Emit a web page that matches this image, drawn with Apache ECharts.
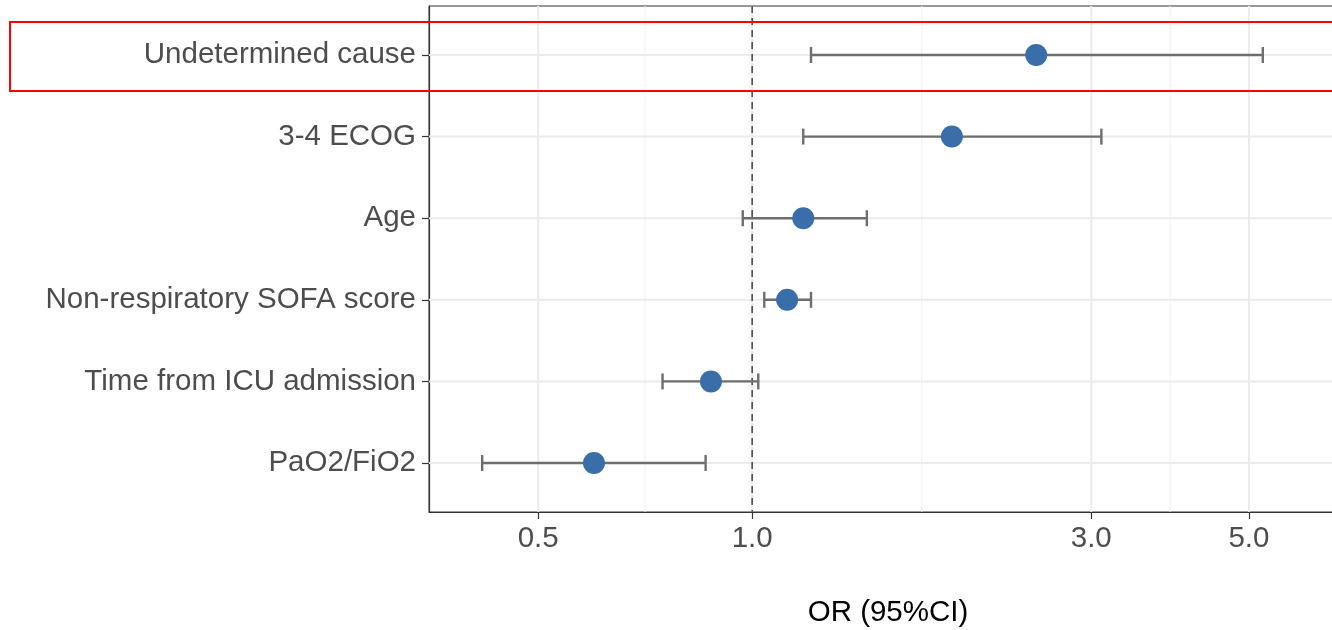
<!DOCTYPE html>
<html>
<head>
<meta charset="utf-8">
<script src="https://cdn.jsdelivr.net/npm/echarts@6/dist/echarts.min.js"></script>
<style>html,body{margin:0;padding:0;background:#fff}#c{width:1332px;height:630px}</style>
</head>
<body>
<div id="c"></div>
<script>
// ---- data ----
var categories = ['Undetermined cause', '3-4 ECOG', 'Age', 'Non-respiratory SOFA score', 'Time from ICU admission', 'PaO2/FiO2'];
var orValues  = [2.51, 1.91, 1.18, 1.12, 0.875, 0.599];
var ciLower   = [1.21, 1.18, 0.970, 1.04, 0.748, 0.417];
var ciUpper   = [5.23, 3.10, 1.45, 1.21, 1.02, 0.860];
var xTicks    = [0.5, 1.0, 3.0, 5.0];
var xMinor    = [0.7071, 1.7321, 3.873];
var refValue  = 1.0;

var FONT = '"Liberation Sans", Arial, Helvetica, sans-serif';
var chart = echarts.init(document.getElementById('c'), null, {renderer: 'canvas'});

var yPos = categories.map(function (c, i) { return i + 1; });
var ebData = categories.map(function (c, i) { return [orValues[i], yPos[i], ciLower[i], ciUpper[i]]; });
var ptData = categories.map(function (c, i) { return [orValues[i], yPos[i]]; });

function vLineSeries(values, color, width, dash, z) {
  return {
    type: 'custom', z: z, silent: true, clip: true,
    data: values.map(function (v) { return [v, 1]; }),
    renderItem: function (params, api) {
      var cs = params.coordSys;
      var x = api.coord([api.value(0), 1])[0];
      return {type: 'line', shape: {x1: x, y1: cs.y, x2: x, y2: cs.y + cs.height},
        style: {stroke: color, lineWidth: width, lineDash: dash}};
    }
  };
}

var option = {
  backgroundColor: '#ffffff',
  animation: false,
  grid: {left: 429, top: 6, width: 918, height: 506, outerBoundsMode: 'none', containLabel: false,
    show: true, borderColor: '#333333', borderWidth: 1, backgroundColor: '#ffffff'},
  xAxis: {
    type: 'log', logBase: 10, min: 0.351, max: 6.87,
    name: 'OR (95%CI)', nameLocation: 'middle', nameGap: 86,
    nameTextStyle: {fontFamily: FONT, fontSize: 29.5, color: '#000000'},
    axisLine: {show: true, lineStyle: {color: '#333333', width: 1.2}},
    axisTick: {show: true, length: 7, lineStyle: {color: '#333333', width: 1.2}, customValues: xTicks},
    axisLabel: {customValues: xTicks, fontFamily: FONT, fontSize: 29.5, color: '#4D4D4D', margin: 12,
      formatter: function (v) { return Number(v).toFixed(1); }},
    splitLine: {show: false}, minorSplitLine: {show: false}
  },
  yAxis: {
    type: 'value', min: 0.4, max: 6.6, inverse: true,
    axisLine: {show: true, lineStyle: {color: '#333333', width: 1.2}},
    axisTick: {show: true, length: 7, lineStyle: {color: '#333333', width: 1.2}, customValues: yPos},
    axisLabel: {customValues: yPos, fontFamily: FONT, fontSize: 29.5, color: '#4D4D4D', margin: 13,
      padding: [7, 0, 0, 0],
      formatter: function (v) { return categories[Math.round(v) - 1] || ''; }},
    splitLine: {show: false}
  },
  series: [
    vLineSeries(xMinor, '#F0F0F0', 1, null, 1),
    vLineSeries(xTicks, '#EBEBEB', 2, null, 1),
    {
      type: 'custom', z: 1, silent: true,
      data: yPos.map(function (y) { return [1, y]; }),
      renderItem: function (params, api) {
        var cs = params.coordSys;
        var y = api.coord([1, api.value(1)])[1];
        return {type: 'line', shape: {x1: cs.x, y1: y, x2: cs.x + cs.width, y2: y},
          style: {stroke: '#EBEBEB', lineWidth: 2}};
      }
    },
    vLineSeries([refValue], '#444444', 1.5, [7, 5], 2),
    {
      type: 'custom', z: 3, silent: true,
      data: ebData,
      renderItem: function (params, api) {
        var y = api.value(1);
        var lo = api.coord([api.value(2), y]);
        var hi = api.coord([api.value(3), y]);
        var h = 8;
        var st = {stroke: '#6E6E6E', lineWidth: 2.4};
        return {type: 'group', children: [
          {type: 'line', shape: {x1: lo[0], y1: lo[1], x2: hi[0], y2: hi[1]}, style: st},
          {type: 'line', shape: {x1: lo[0], y1: lo[1] - h, x2: lo[0], y2: lo[1] + h}, style: st},
          {type: 'line', shape: {x1: hi[0], y1: hi[1] - h, x2: hi[0], y2: hi[1] + h}, style: st}
        ]};
      }
    },
    {
      type: 'scatter', z: 4, silent: true,
      symbol: 'circle', symbolSize: 22,
      itemStyle: {color: '#3A6EA8', opacity: 1},
      data: ptData
    }
  ],
  graphic: [{
    type: 'rect', z: 100, silent: true,
    shape: {x: 10, y: 22, width: 1340, height: 69},
    style: {fill: 'none', stroke: '#FF0000', lineWidth: 2}
  }]
};
chart.setOption(option);
</script>
</body>
</html>
